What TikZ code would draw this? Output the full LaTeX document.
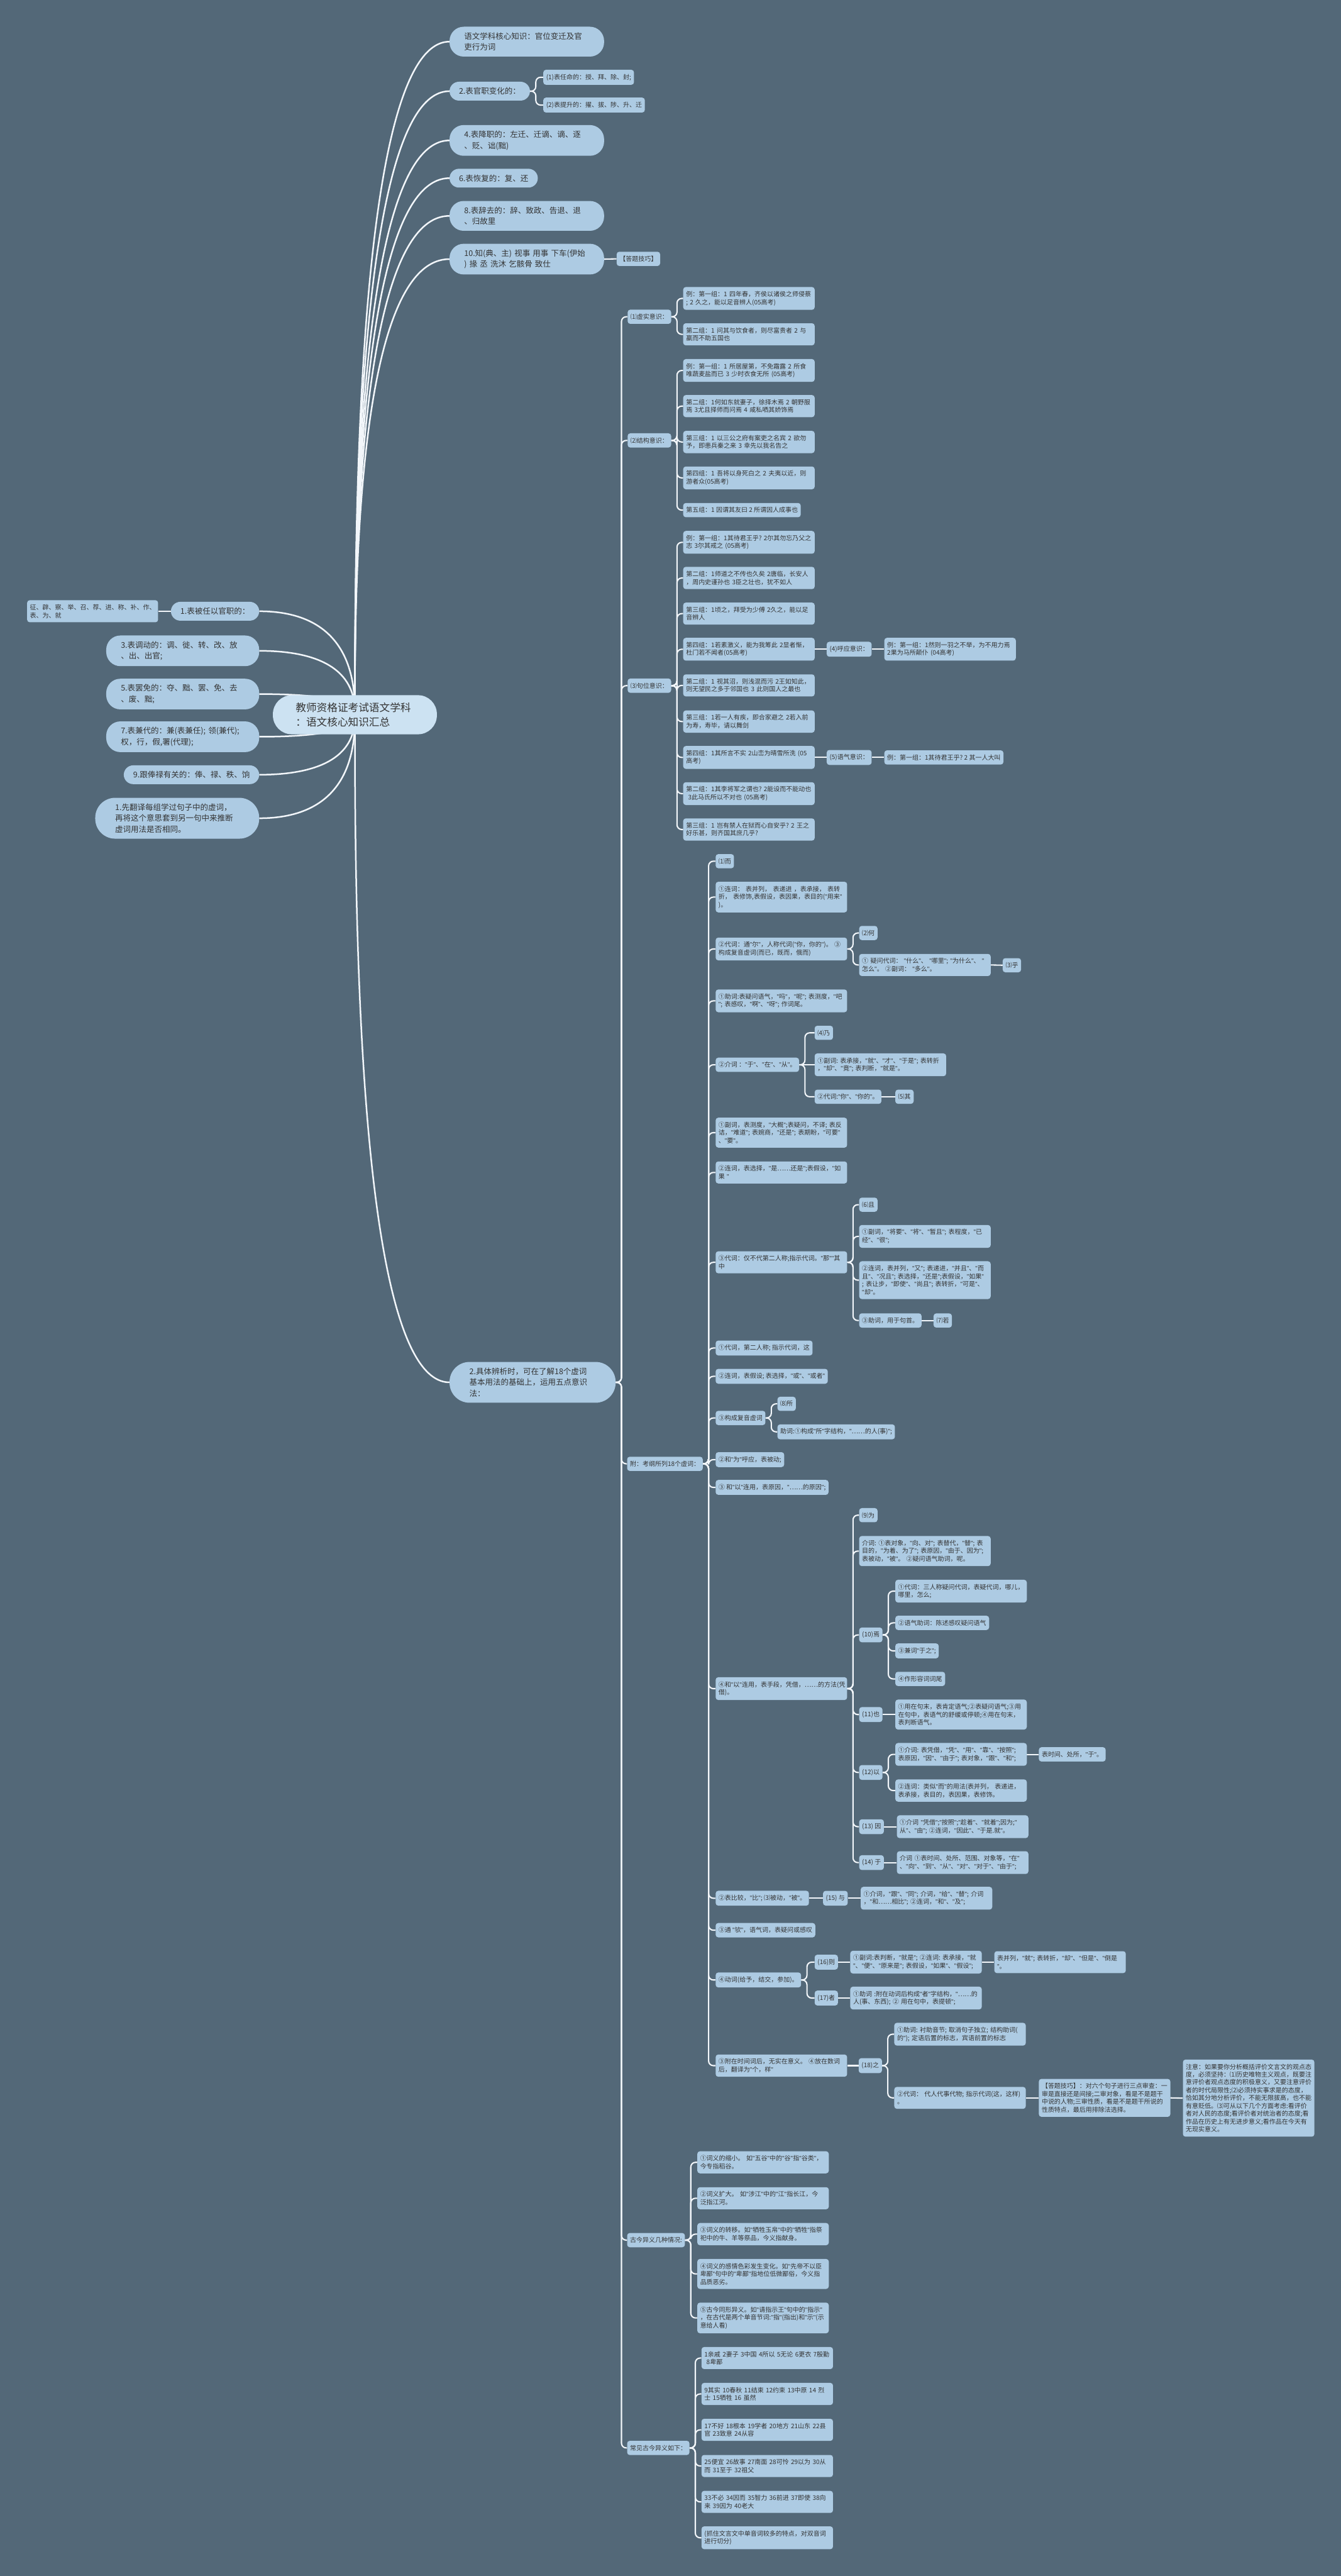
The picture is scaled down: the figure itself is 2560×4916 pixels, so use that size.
\documentclass[tikz,border=0pt]{standalone}
\usepackage{fontspec}
\setmainfont{Noto Sans CJK SC}
\newfontfamily\lat{Liberation Sans}
\usetikzlibrary{calc}
\pgfdeclarelayer{bgl}
\pgfsetlayers{bgl,main}
\definecolor{bgc}{HTML}{536878}
\definecolor{nodefill}{HTML}{ADCBE3}
\definecolor{rootfill}{HTML}{CCE2F2}
\definecolor{txt}{HTML}{333333}
\definecolor{wire}{HTML}{F2F6FA}
\newcommand\myfs{\fontsize{12}{15}\selectfont}
\newcommand\myfl{\fontsize{15}{21}\selectfont}
\newcommand\myfr{\fontsize{20}{27}\selectfont}
\newcommand\myelb[2]{\draw[wiree] (#1.east) -- ++(11,0) |- (#2.west);}
\newcommand\mystr[2]{\draw[wiree] (#1.east) -- (#2.west);}
\tikzset{
 sm/.style={fill=nodefill, text=txt, rounded corners=5, inner xsep=5.5, inner ysep=8, font=\myfs, align=left, anchor=west},
 smw/.style={sm, text width=240},
 pill/.style={fill=nodefill, text=txt, font=\myfl, align=left, inner ysep=11},
 p1/.style={pill, rounded corners=18, inner xsep=18},
 p2/.style={pill, rounded corners=27, inner xsep=28, text width=#1},
 p3/.style={pill, rounded corners=38, inner xsep=38, text width=#1},
 wirec/.style={draw=wire, line width=3},
 wiree/.style={draw=wire, line width=2.5, rounded corners=9},
}
\catcode`\"=\active
\def"{{\lat\string"}}
\begin{document}
\begin{tikzpicture}[x=1pt,y=-1pt]
\useasboundingbox (0,0) rectangle (2560,4916);
% root
\node[fill=rootfill, text=txt, font=\myfr, align=left, text width=226, inner xsep=43.5, inner ysep=14.5, rounded corners=36] (root) at (677.5,1364) {教师资格证考试语文学科\\：语文核心知识汇总};
% top right pills
\node[p2=239, anchor=west] (n1) at (858,79.5) {语文学科核心知识：官位变迁及官\\吏行为词};
\node[p1, anchor=west] (n2) at (858,174) {2.表官职变化的：};
\node[sm] (n2a) at (1037,147.5) {(1)表任命的：授、拜、除、封;};
\node[sm] (n2b) at (1037,200.5) {(2)表提升的：擢、拔、陟、升、迁};
\node[p2=239, anchor=west] (n3) at (858,268) {4.表降职的：左迁、迁谪、谪、逐\\、贬、诎(黜)};
\node[p1, anchor=west] (n4) at (858,340) {6.表恢复的：复、还};
\node[p2=239, anchor=west] (n5) at (858,412) {8.表辞去的：辞、致政、告退、退\\、归故里};
\node[p2=239, anchor=west] (n6) at (858,494.5) {10.知(典、主)~视事~用事~下车(伊始\\)~掾~丞~洗沐~乞骸骨~致仕};
\node[sm] (n6a) at (1177,494) {【答题技巧】};
% left pills
\node[p1, anchor=east] (l1) at (495,1166.5) {1.表被任以官职的：};
\node[sm, anchor=east, text width=239] (l1a) at (302,1166.5) {征、辟、察、举、召、荐、进、称、补、作、\\表、为、就};
\node[p2=236, anchor=east] (l2) at (495,1242) {3.表调动的：调、徙、转、改、放\\、出、出官;};
\node[p2=236, anchor=east] (l3) at (495,1324.5) {5.表罢免的：夺、黜、罢、免、去\\、废、黜;};
\node[p2=236, anchor=east] (l4) at (495,1406) {7.表兼代的：兼(表兼任);~领(兼代);\\权，行，假,署(代理);};
\node[p1, anchor=east] (l5) at (495,1478.5) {9.跟俸禄有关的：俸、禄、秩、饷};
\node[p3=237, anchor=east] (l6) at (495,1561.5) {1.先翻译每组学过句子中的虚词，\\再将这个意思套到另一句中来推断\\虚词用法是否相同。};
% main lower pill
\node[p3=241, anchor=west] (m2) at (858,2638) {2.具体辨析时，可在了解18个虚词\\基本用法的基础上，运用五点意识\\法：};
% section (1)
\node[sm] (a0) at (1198,604.5) {⑴虚实意识：};
\node[smw] (A1) at (1304,569.5) {例：第一组：1~四年春，齐侯以诸侯之师侵蔡\\;~2~久之，能以足音辨人(05高考)};
\node[smw] (A2) at (1304,638) {第二组：1~问其与饮食者，则尽富贵者~2~与\\嬴而不助五国也};
% section (2)
\node[sm] (b0) at (1198,840.5) {⑵结构意识：};
\node[smw] (B1) at (1304,707) {例：第一组：1~所居屋第，不免霜露~2~所食\\唯蔬麦盐而已~3~少时衣食无所~(05高考)};
\node[smw] (B2) at (1304,775) {第二组：1何如东就妻子，徐择木焉~2~朝野服\\焉~3尤且择师而问焉~4~咸私哂其娇饰焉};
\node[smw] (B3) at (1304,843.5) {第三组：1~以三公之府有案吏之名宾~2~欲勿\\予，即患兵秦之来~3~幸先以我名告之};
\node[smw] (B4) at (1304,912) {第四组：1~吾将以身死白之~2~夫夷以近，则\\游者众(05高考)};
\node[sm] (B5) at (1304,973.5) {第五组：1~因谓其友曰~2~所谓因人成事也};
% section (3)
\node[sm] (c0) at (1198,1308.5) {⑶句位意识：};
\node[smw] (C1) at (1304,1035) {例：第一组：1其待君王乎?~2尔其勿忘乃父之\\志~3尔其戒之~(05高考)};
\node[smw] (C2) at (1304,1103) {第二组：1师道之不传也久矣~2唐临，长安人\\，周内史谨孙也~3臣之壮也，犹不如人};
\node[smw] (C3) at (1304,1171) {第三组：1顷之，拜受为少傅~2久之，能以足\\音辨人};
\node[smw] (C4) at (1304,1239) {第四组：1若素激义，能为我筹此~2显者惭，\\杜门若不闻者(05高考)};
\node[sm] (C4a) at (1578,1239) {(4)呼应意识：};
\node[smw] (C4b) at (1688,1239) {例：第一组：1然则一羽之不举，为不用力焉\\2果为马所颠仆~(04高考)};
\node[smw] (C5) at (1304,1308) {第二组：1~视其沼，则浅混而污~2王如知此，\\则无望民之多于邻国也~3~此则国人之最也};
\node[smw] (C6) at (1304,1377) {第三组：1若一人有疾，即合家避之~2若入前\\为寿，寿毕，请以舞剑};
\node[smw] (C7) at (1304,1445.5) {第四组：1其所言不实~2山峦为晴雪所洗~(05\\高考)};
\node[sm] (C7a) at (1578,1445.5) {(5)语气意识：};
\node[sm] (C7b) at (1688,1445.5) {例：第一组：1其待君王乎?~2~其一人大叫};
\node[smw] (C8) at (1304,1514.5) {第二组：1其李将军之谓也?~2能设而不能动也\\~3此马氏所以不对也~(05高考)};
\node[smw] (C9) at (1304,1583) {第三组：1~岂有禁人在狱而心自安乎?~2~王之\\好乐甚，则齐国其庶几乎?};
% section 附
\node[sm] (d0) at (1197,2793.5) {附：考纲所列18个虚词：};
\node[sm] (D1) at (1366,1643.5) {⑴而};
\node[smw] (D2) at (1366,1712) {①连词：~表并列，~表递进~，表承接，~表转\\折，~表修饰,表假设，表因果，表目的("用来"\\)。};
\node[smw] (D3) at (1366,1811) {②代词：通"尔"，人称代词("你，你的")。~③\\构成复音虚词(而已，既而，俄而)};
\node[sm] (D3a) at (1640,1780.5) {⑵何};
\node[smw] (D3b) at (1640,1841.5) {①~疑问代词：~"什么"、~"哪里";~"为什么"、~"\\怎么"。~②副词：~"多么"。};
\node[sm] (D3c) at (1914,1842) {⑶乎};
\node[smw] (D4) at (1366,1910) {①助词:表疑问语气，"吗"，"呢";~表测度，"吧\\";~表感叹，"啊"、"呀";~作词尾。};
\node[sm] (D5) at (1366,2032) {②介词~："于"、"在"、"从"。};
\node[sm] (D5a) at (1555,1971) {⑷乃};
\node[smw] (D5b) at (1555,2032) {①副词:~表承接，"就"、"才"、"于是";~表转折\\，"却"、"竟";~表判断，"就是"。};
\node[sm] (D5c) at (1555,2093) {②代词:"你"、"你的"。};
\node[sm] (D5d) at (1709,2093) {⑸其};
\node[smw] (D6) at (1366,2161.5) {①副词，表测度，"大概";表疑问，不译;~表反\\诘，"难道";~表婉商，"还是";~表期盼，"可要"\\、"要"。};
\node[smw] (D7) at (1366,2237.5) {②连词，表选择，"是……还是";表假设，"如\\果~"};
\node[smw] (D8) at (1366,2409) {③代词：仅不代第二人称;指示代词。"那""其\\中};
\node[sm] (D8a) at (1640,2299) {⑹且};
\node[smw] (D8b) at (1640,2359.5) {①副词，"将要"、"将"、"暂且";~表程度，"已\\经"、"很";};
\node[smw] (D8c) at (1640,2443) {②连词，表并列，"又";~表递进，"并且"、"而\\且"、"况且";~表选择，"还是";表假设，"如果"\\;~表让步，"即使"、"尚且";~表转折，"可是"、\\"却"。};
\node[sm] (D8d) at (1640,2520) {③助词，用于句首。};
\node[sm] (D8e) at (1782,2520) {⑺若};
\node[sm] (D9) at (1366,2572.5) {①代词，第二人称;~指示代词，这};
\node[sm] (D10) at (1366,2626.5) {②连词，表假设;~表选择，"或"、"或者"};
\node[sm] (D11) at (1366,2706) {③构成复音虚词};
\node[sm] (D11a) at (1484,2679) {⑻所};
\node[sm] (D11b) at (1484,2732.5) {助词:①构成"所"字结构，"……的人(事)";};
\node[sm] (D12) at (1366,2785.5) {②和"为"呼应，表被动;};
\node[sm] (D13) at (1366,2838.5) {③~和"以"连用，表原因，"……的原因";};
\node[smw] (D14) at (1366,3222.5) {④和"以"连用，表手段，凭借，……的方法(凭\\借)。};
\node[sm] (D14a) at (1640,2891.5) {⑼为};
\node[smw] (D14b) at (1640,2960) {介词:~①表对象，"向、对";~表替代，"替";~表\\目的，"为着、为了";~表原因，"由于、因为";\\表被动，"被"。~②疑问语气助词，呢。};
\node[sm] (D14c) at (1640,3120) {(10)焉};
\node[smw] (D14c1) at (1709,3036.5) {①代词：三人称疑问代词，表疑代词，哪儿，\\哪里，怎么;};
\node[sm] (D14c2) at (1709,3097) {②语气助词：陈述感叹疑问语气};
\node[sm] (D14c3) at (1709,3150.5) {③兼词"于之";};
\node[sm] (D14c4) at (1709,3204) {④作形容词词尾};
\node[sm] (D14d) at (1640,3272) {(11)也};
\node[smw] (D14d1) at (1709,3272) {①用在句末，表肯定语气;②表疑问语气;③用\\在句中，表语气的舒缓或停顿;④用在句末，\\表判断语气。};
\node[sm] (D14e) at (1640,3382.5) {(12)以};
\node[smw] (D14e1) at (1709,3348) {①介词:~表凭借，"凭"、"用"、"靠"、"按照";\\表原因，"因"、"由于";~表对象，"跟"、"和";};
\node[sm] (D14e1a) at (1983,3348) {表时间、处所，"于"。};
\node[smw] (D14e2) at (1709,3417) {②连词：类似"而"的用法(表并列，~表递进，\\表承接，表目的，表因果，表修饰。};
\node[sm] (D14f) at (1640,3486) {(13)~因};
\node[smw] (D14f1) at (1712,3486) {①介词~"凭借";"按照";"趁着"、"就着";因为;"\\从"、"由";~②连词，"因此"、"于是.就"。};
\node[sm] (D14g) at (1640,3554.5) {(14)~于};
\node[smw] (D14g1) at (1712,3554.5) {介词~①表时间、处所、范围、对象等，"在"\\、"向"、"到"、"从"、"对"、"对于"、"由于";};
\node[sm] (D15) at (1366,3622.5) {②表比较，"比";~⑶被动，"被"。};
\node[sm] (D15a) at (1571,3622.5) {(15)~与};
\node[smw] (D15b) at (1643,3622.5) {①介词，"跟"、"同";~介词，"给"、"替";~介词\\，"和……相比";~②连词，"和"、"及";};
\node[sm] (D16) at (1366,3683.5) {③通~"欤"，语气词，表疑问或感叹};
\node[sm] (D17) at (1366,3778.5) {④动词(给予，结交，参加)。};
\node[sm] (D17a) at (1555,3744.5) {(16)则};
\node[smw] (D17a1) at (1623,3744.5) {①副词:表判断，"就是";~②连词:~表承接，"就\\"、"便"、"原来是";~表假设，"如果"、"假设";};
\node[smw] (D17a2) at (1898,3744.5) {表并列，"就";~表转折，"却"、"但是"、"倒是\\"。};
\node[sm] (D17b) at (1555,3813) {(17)者};
\node[smw] (D17b1) at (1623,3813) {①助词~:附在动词后构成"者"字结构，"……的\\人(事、东西);~②~用在句中，表提顿";};
\node[smw] (D18) at (1366,3942) {③附在时间词后，无实在意义。~④放在数词\\后，翻译为"个，样"};
\node[sm] (D18a) at (1639,3942) {(18)之};
\node[smw] (D18a1) at (1707,3882) {①助词:~衬助音节;~取消句子独立;~结构助词(\\的");~定语后置的标志，宾语前置的标志};
\node[smw] (D18a2) at (1707,4003.5) {②代词：~代人代事代物;~指示代词(这，这样)\\。};
\node[smw] (D18a3) at (1983,4003.5) {【答题技巧】：对六个句子进行三点审查：一\\审是直接还是间接;二审对象，看是不是题干\\中说的人物;三审性质，看是不是题干所说的\\性质特点，最后用排除法选择。};
\node[smw] (D18a4) at (2258,4004) {注意：如果要你分析概括评价文言文的观点态\\度，必须坚持：⑴历史唯物主义观点，既要注\\意评价者观点态度的积极意义，又要注意评价\\者的时代局限性;⑵必须持实事求是的态度，\\恰如其分地分析评价，不能无限拔高，也不能\\有意贬低。⑶可从以下几个方面考虑:看评价\\者对人民的态度;看评价者对统治者的态度;看\\作品在历史上有无进步意义;看作品在今天有\\无现实意义。};
% section 古今异义
\node[sm] (e0) at (1197,4275) {古今异义几种情况:};
\node[smw] (E1) at (1331,4126.5) {①词义的缩小。~如"五谷"中的"谷"指"谷类"，\\今专指稻谷。};
\node[smw] (E2) at (1331,4195) {②词义扩大。~如"涉江"中的"江"指长江，今\\泛指江河。};
\node[smw] (E3) at (1331,4263.5) {③词义的转移。如"牺牲玉帛"中的"牺牲"指祭\\祀中的牛、羊等祭品，今义指献身。};
\node[smw] (E4) at (1331,4339.5) {④词义的感情色彩发生变化。如"先帝不以臣\\卑鄙"句中的"卑鄙"指地位低微鄙俗，今义指\\品质恶劣。};
\node[smw] (E5) at (1331,4423.5) {⑤古今同形异义。如"请指示王"句中的"指示"\\，在古代是两个单音节词:"指"(指出)和"示"(示\\意给人看)};
% section 常见古今异义
\node[sm] (f0) at (1197,4671.5) {常见古今异义如下：};
\node[smw] (F1) at (1339,4500) {1亲戚~2妻子~3中国~4所以~5无论~6更衣~7殷勤\\~8卑鄙};
\node[smw] (F2) at (1339,4568.5) {9其实~10春秋~11结束~12约束~13中原~14~烈\\士~15牺牲~16~虽然};
\node[smw] (F3) at (1339,4637) {17不好~18根本~19学者~20地方~21山东~22县\\官~23致意~24从容};
\node[smw] (F4) at (1339,4706) {25便宜~26故事~27南面~28可怜~29以为~30从\\而~31至于~32祖父};
\node[smw] (F5) at (1339,4774.5) {33不必~34因而~35智力~36前进~37即使~38向\\来~39因为~40老大};
\node[smw] (F6) at (1339,4843) {(抓住文言文中单音词较多的特点，对双音词\\进行切分)};

\begin{pgfonlayer}{bgl}
\fill[bgc] (0,0) rectangle (2560,4916);
\foreach \nd in {n1,n2,n3,n4,n5,n6,m2} {
  \draw[wirec] (root.center) .. controls ($(root.center)!0.25!(root.center |- \nd.west)$) and (root.center |- \nd.west) .. (\nd.west);
}
\foreach \nd in {l1,l2,l3,l4,l5,l6} {
  \draw[wirec] (root.center) .. controls ($(root.center)!0.25!(root.center |- \nd.east)$) and (root.center |- \nd.east) .. (\nd.east);
}
\draw[wiree] (l1.west) -- (l1a.east);
\myelb{n2}{n2a} \myelb{n2}{n2b}
\mystr{n6}{n6a}
\foreach \nd in {a0,b0,c0,d0,e0,f0} {\myelb{m2}{\nd}}
\myelb{a0}{A1} \myelb{a0}{A2}
\foreach \nd in {B1,B2,B3,B4,B5} {\myelb{b0}{\nd}}
\foreach \nd in {C1,C2,C3,C4,C5,C6,C7,C8,C9} {\myelb{c0}{\nd}}
\mystr{C4}{C4a} \mystr{C4a}{C4b}
\mystr{C7}{C7a} \mystr{C7a}{C7b}
\foreach \nd in {D1,D2,D3,D4,D5,D6,D7,D8,D9,D10,D11,D12,D13,D14,D15,D16,D17,D18} {\myelb{d0}{\nd}}
\myelb{D3}{D3a} \myelb{D3}{D3b} \mystr{D3b}{D3c}
\myelb{D5}{D5a} \mystr{D5}{D5b} \myelb{D5}{D5c} \mystr{D5c}{D5d}
\foreach \nd in {D8a,D8b,D8c,D8d} {\myelb{D8}{\nd}}
\mystr{D8d}{D8e}
\myelb{D11}{D11a} \myelb{D11}{D11b}
\foreach \nd in {D14a,D14b,D14c,D14d,D14e,D14f,D14g} {\myelb{D14}{\nd}}
\foreach \nd in {D14c1,D14c2,D14c3,D14c4} {\myelb{D14c}{\nd}}
\mystr{D14d}{D14d1}
\myelb{D14e}{D14e1} \myelb{D14e}{D14e2} \mystr{D14e1}{D14e1a}
\mystr{D14f}{D14f1} \mystr{D14g}{D14g1}
\mystr{D15}{D15a} \mystr{D15a}{D15b}
\myelb{D17}{D17a} \myelb{D17}{D17b}
\mystr{D17a}{D17a1} \mystr{D17a1}{D17a2} \mystr{D17b}{D17b1}
\mystr{D18}{D18a}
\myelb{D18a}{D18a1} \myelb{D18a}{D18a2}
\mystr{D18a2}{D18a3} \mystr{D18a3}{D18a4}
\foreach \nd in {E1,E2,E3,E4,E5} {\myelb{e0}{\nd}}
\foreach \nd in {F1,F2,F3,F4,F5,F6} {\myelb{f0}{\nd}}
\end{pgfonlayer}
\end{tikzpicture}
\end{document}
